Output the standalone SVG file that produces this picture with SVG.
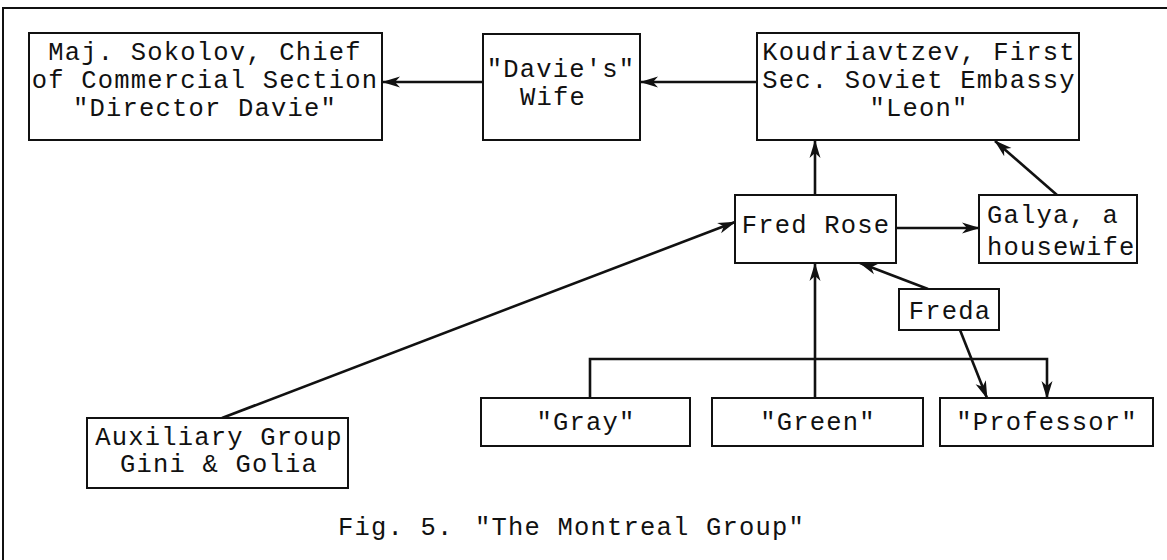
<svg xmlns="http://www.w3.org/2000/svg" width="1167" height="560" viewBox="0 0 1167 560">
<style>
.bg{fill:#fff}
.frame{fill:none;stroke:#111;stroke-width:2}
.box{fill:#fff;stroke:#111;stroke-width:2}
.t{font-family:"Liberation Mono","Courier New",monospace;font-size:25.5px;letter-spacing:1.2px;fill:#111}
.c{text-anchor:middle}
.ln{fill:none;stroke:#111;stroke-width:2.6}
.arr{marker-end:url(#ah)}
</style>
<defs>
<marker id="ah" markerUnits="userSpaceOnUse" viewBox="0 0 18 12" markerWidth="18" markerHeight="12" refX="17" refY="6" orient="auto">
<path d="M0,0.5 L18,6 L0,11.5 L5,6 z" fill="#111"/>
</marker>
</defs>
<rect class="bg" x="0" y="0" width="1167" height="560"/>
<path class="frame" d="M3,560 L3,8 L1167,8"/>

<g id="connectors">
<line class="ln arr" x1="757" y1="82" x2="641" y2="82"/>
<line class="ln arr" x1="483" y1="82" x2="383" y2="82"/>
<line class="ln arr" x1="815" y1="195" x2="815" y2="141"/>
<line class="ln arr" x1="1057" y1="195" x2="995" y2="141"/>
<line class="ln arr" x1="896" y1="228" x2="979" y2="228"/>
<line class="ln arr" x1="222" y1="418" x2="735" y2="222"/>
<line class="ln arr" x1="928" y1="289" x2="860" y2="263"/>
<line class="ln arr" x1="815" y1="398" x2="815" y2="264"/>
<path class="ln arr" d="M590,398 L590,359 L1047,359 L1047,398"/>
<line class="ln arr" x1="960" y1="330" x2="987" y2="398"/>
</g>

<g id="sokolov">
<rect class="box" x="29" y="33" width="353" height="107"/>
<text class="t c" x="205" y="60">Maj. Sokolov, Chief</text>
<text class="t c" x="205" y="88">of Commercial Section</text>
<text class="t c" x="205" y="116">"Director Davie"</text>
</g>

<g id="davies-wife">
<rect class="box" x="483" y="34" width="157" height="106"/>
<text class="t c" x="561" y="77">"Davie's"</text>
<text class="t c" x="553" y="105">Wife</text>
</g>

<g id="koudriavtzev">
<rect class="box" x="757" y="33" width="322" height="107"/>
<text class="t c" x="919" y="60">Koudriavtzev, First</text>
<text class="t c" x="919" y="88">Sec. Soviet Embassy</text>
<text class="t c" x="919" y="116">"Leon"</text>
</g>

<g id="fred-rose">
<rect class="box" x="735" y="195" width="161" height="68"/>
<text class="t c" x="816" y="233">Fred Rose</text>
</g>

<g id="galya">
<rect class="box" x="979" y="195" width="158" height="68"/>
<text class="t" x="987" y="223">Galya, a</text>
<text class="t" x="987" y="255">housewife</text>
</g>

<g id="freda">
<rect class="box" x="899" y="289" width="100" height="41"/>
<text class="t c" x="950" y="319">Freda</text>
</g>

<g id="gray">
<rect class="box" x="481" y="398" width="209" height="48"/>
<text class="t c" x="586" y="430">"Gray"</text>
</g>

<g id="green">
<rect class="box" x="712" y="398" width="211" height="48"/>
<text class="t c" x="818" y="430">"Green"</text>
</g>

<g id="professor">
<rect class="box" x="940" y="398" width="213" height="48"/>
<text class="t c" x="1047" y="430">"Professor"</text>
</g>

<g id="auxiliary">
<rect class="box" x="87" y="418" width="261" height="70"/>
<text class="t c" x="219" y="445">Auxiliary Group</text>
<text class="t c" x="219" y="472">Gini &amp; Golia</text>
</g>

<g id="caption">
<text class="t" y="535"><tspan x="338">Fig. 5.</tspan><tspan x="475">"The Montreal Group"</tspan></text>
</g>
</svg>
